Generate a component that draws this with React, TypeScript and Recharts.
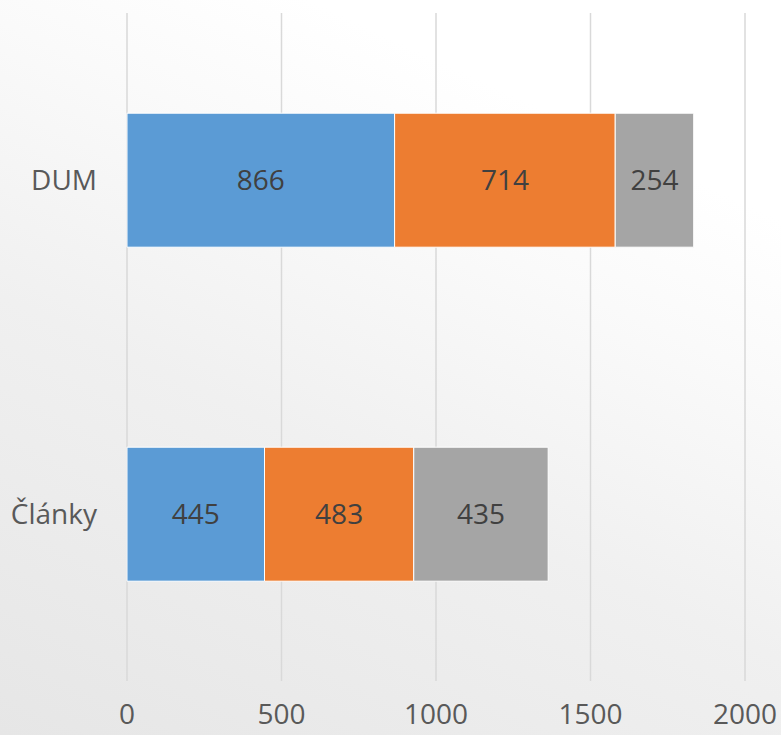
import { Bar, BarChart, CartesianGrid, LabelList, XAxis, YAxis } from "recharts";

const categories = ["DUM", "Články"];
const series1 = [866, 445];
const series2 = [714, 483];
const series3 = [254, 435];
const xTicks = [0, 500, 1000, 1500, 2000];

const data = categories.map((name, i) => ({
  name,
  s1: series1[i],
  s2: series2[i],
  s3: series3[i],
}));

const FONT = '"Open Sans", "Noto Sans", sans-serif';

export default function App() {
  return (
    <div
      style={{
        position: "absolute",
        left: 0,
        top: 0,
        width: 781,
        height: 735,
        background: "linear-gradient(25deg, #e6e6e6 0%, #f0f0f0 40%, #fafafa 65%, #ffffff 80%)",
        fontFamily: FONT,
      }}
    >
      <BarChart
        width={781}
        height={735}
        data={data}
        layout="vertical"
        margin={{ top: 13, right: 36, bottom: 0, left: 0 }}
        barCategoryGap="30%"
      >
        <CartesianGrid horizontal={false} stroke="#d9d9d9" strokeWidth={1.5} />
        <XAxis
          type="number"
          domain={[0, 2000]}
          ticks={xTicks}
          axisLine={false}
          tickLine={false}
          tickMargin={17}
          height={54}
          tick={{ fontSize: 28, fill: "#595959", fontFamily: FONT }}
        />
        <YAxis
          type="category"
          dataKey="name"
          width={127}
          axisLine={false}
          tickLine={false}
          tickMargin={24}
          tick={{ fontSize: 28, fill: "#595959", fontFamily: FONT }}
        />
        <Bar dataKey="s1" stackId="a" fill="#5B9BD5" stroke="#ffffff" strokeWidth={1} isAnimationActive={false}>
          <LabelList dataKey="s1" position="center" fill="#404040" fontSize={28} fontFamily={FONT} />
        </Bar>
        <Bar dataKey="s2" stackId="a" fill="#ED7D31" stroke="#ffffff" strokeWidth={1} isAnimationActive={false}>
          <LabelList dataKey="s2" position="center" fill="#404040" fontSize={28} fontFamily={FONT} />
        </Bar>
        <Bar dataKey="s3" stackId="a" fill="#A5A5A5" stroke="#ffffff" strokeWidth={1} isAnimationActive={false}>
          <LabelList dataKey="s3" position="center" fill="#404040" fontSize={28} fontFamily={FONT} />
        </Bar>
      </BarChart>
    </div>
  );
}
